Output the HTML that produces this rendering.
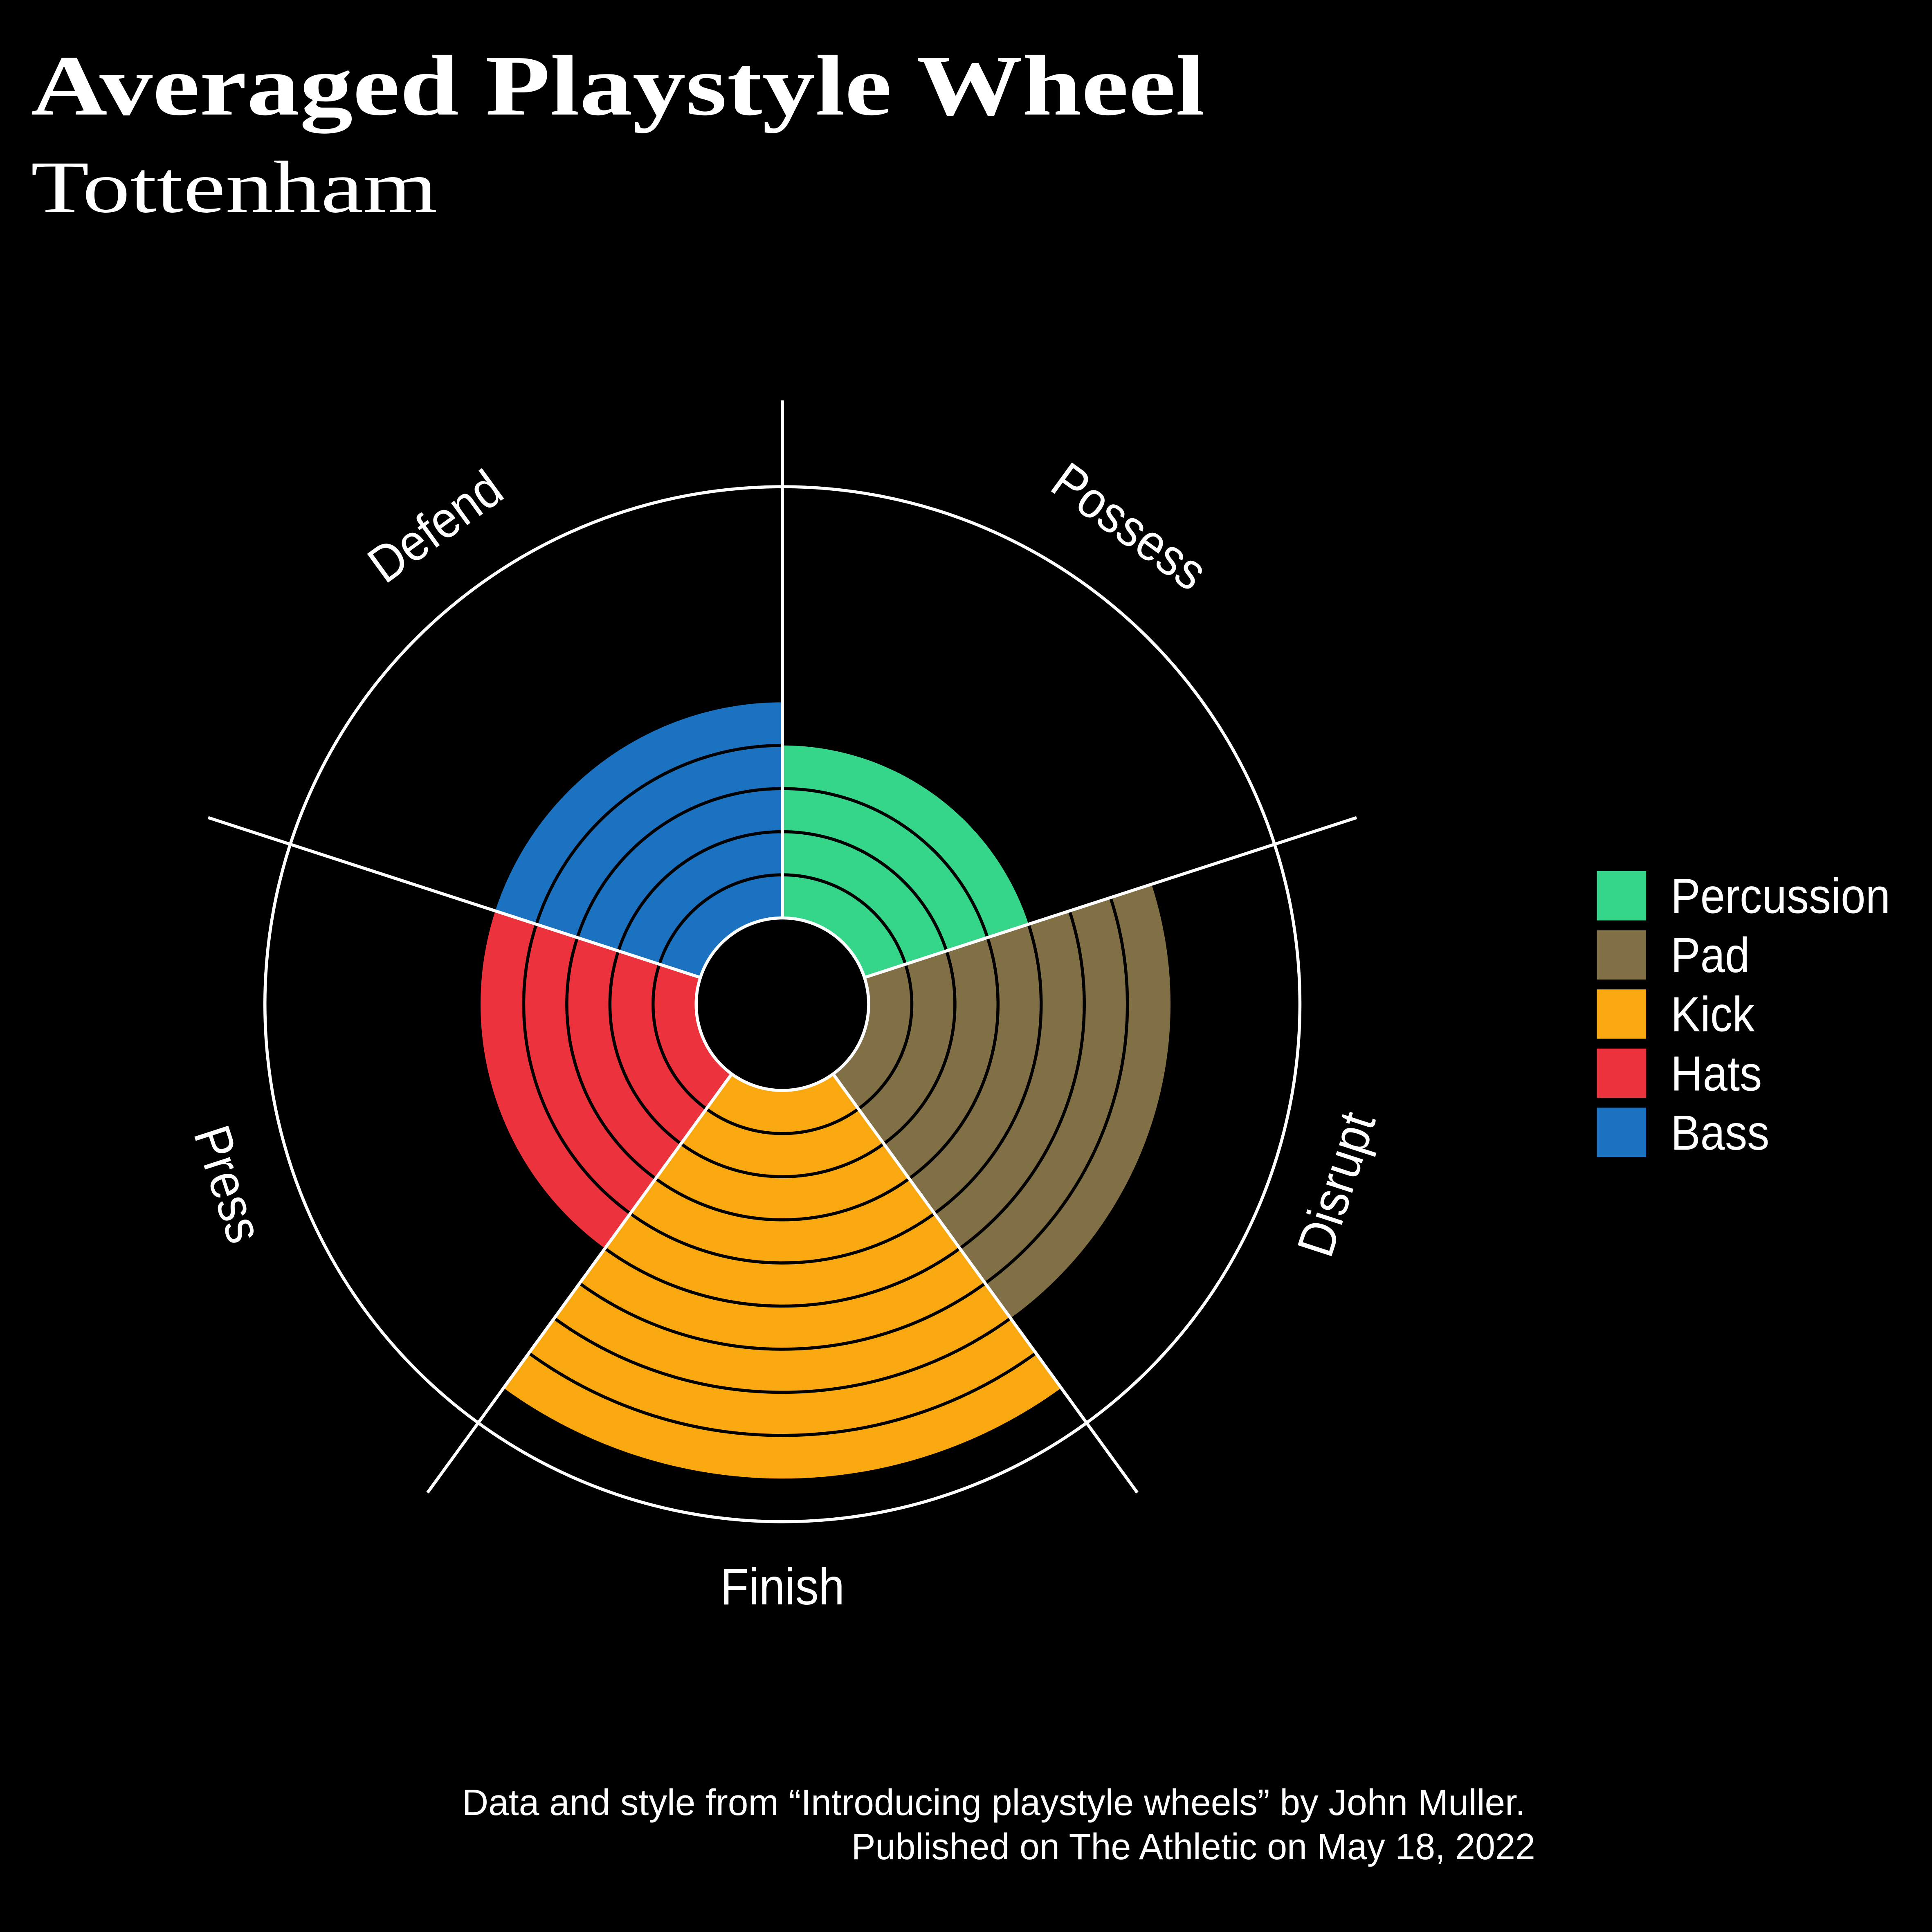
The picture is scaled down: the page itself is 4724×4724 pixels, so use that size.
<!DOCTYPE html>
<html><head><meta charset="utf-8">
<style>
html,body{margin:0;padding:0;background:#000;}
svg{display:block;}
.lab{font-family:"Liberation Sans Narrow","Liberation Sans",sans-serif;fill:#fff;}
</style></head>
<body>
<svg id="chart" width="4724" height="4724" viewBox="0 0 1568 1568" xmlns="http://www.w3.org/2000/svg">
<rect width="1568" height="1568" fill="#000"/>
<text x="25" y="93" font-family="Liberation Serif, serif" font-weight="bold" font-size="70" fill="#fff" textLength="953" lengthAdjust="spacingAndGlyphs">Averaged Playstyle Wheel</text>
<text x="25" y="172" font-family="Liberation Serif, serif" font-size="60" fill="#fff" textLength="330" lengthAdjust="spacingAndGlyphs">Tottenham</text>
<g id="wheel"></g>
<g id="legend"></g>
<text class="lab" x="1238" y="1473" font-size="30" text-anchor="end" textLength="863" lengthAdjust="spacingAndGlyphs">Data and style from “Introducing playstyle wheels” by John Muller.</text>
<text class="lab" x="1246" y="1509" font-size="30" text-anchor="end" textLength="555" lengthAdjust="spacingAndGlyphs">Published on The Athletic on May 18, 2022</text>
</svg>
<script>
const categories = ["Possess","Disrupt","Finish","Press","Defend"];
const series = ["Percussion","Pad","Kick","Hats","Bass"];
const values = [4,7,9,5,5];
const colors = ["#35D68A","#816F45","#F9A90F","#EC333D","#1B72C1"];
const maxValue = 10;

const NS="http://www.w3.org/2000/svg";
const cx=635, cy=815, r0=70, rOuter=420, unit=(rOuter-r0)/maxValue;
const g=document.getElementById('wheel');
function rScale(v){return r0+v*unit;}
function pt(r,a){const t=a*Math.PI/180;return [cx+r*Math.sin(t), cy-r*Math.cos(t)];}
function el(tag,attrs){const e=document.createElementNS(NS,tag);for(const k in attrs)e.setAttribute(k,attrs[k]);return e;}
function narrow(t){try{const w=t.getComputedTextLength();if(w>0){t.setAttribute('textLength',w*0.9);t.setAttribute('lengthAdjust','spacingAndGlyphs');}}catch(e){}}
const n=categories.length, step=360/n;

categories.forEach((c,i)=>{
  const a0=i*step,a1=(i+1)*step,r1=rScale(values[i]);
  const p0=pt(r0,a0),p1=pt(r1,a0),p2=pt(r1,a1),p3=pt(r0,a1);
  const p=el('path',{d:`M${p0} L${p1} A${r1} ${r1} 0 0 1 ${p2} L${p3} A${r0} ${r0} 0 0 0 ${p0} Z`,fill:colors[i]});
  
  
  g.appendChild(p);
  for(let k=1;k<values[i];k++){
    const rr=rScale(k),q0=pt(rr,a0),q1=pt(rr,a1);
    const arc=el('path',{d:`M${q0} A${rr} ${rr} 0 0 1 ${q1}`,fill:'none',stroke:'#000','stroke-width':2.5});
    
    
    g.appendChild(arc);
  }
});
const oc=el('circle',{cx:cx,cy:cy,r:rOuter,fill:'none',stroke:'#fff','stroke-width':2.5});


g.appendChild(oc);
for(let i=0;i<n;i++){
  const a=pt(r0,i*step),b=pt(490,i*step);
  const l=el('line',{x1:a[0],y1:a[1],x2:b[0],y2:b[1],stroke:'#fff','stroke-width':2.5});
  
  
  g.appendChild(l);
}
const hole=el('circle',{cx:cx,cy:cy,r:r0,fill:'#000',stroke:'#fff','stroke-width':2.5});


g.appendChild(hole);

categories.forEach((c,i)=>{
  const a=(i+0.5)*step, p=pt(476,a);
  let rot=a; if(a>90&&a<270) rot=a-180;
  const t=el('text',{x:p[0],y:p[1],'text-anchor':'middle','dominant-baseline':'middle','font-size':42,transform:`rotate(${rot} ${p[0]} ${p[1]})`,class:'lab'});
  t.textContent=c;
  
  
  g.appendChild(t);
  narrow(t);
});

const lg=document.getElementById('legend');
series.forEach((s,i)=>{
  const y=707+i*48;
  const r=el('rect',{x:1296,y:y,width:40,height:40,fill:colors[i]});
  
  
  lg.appendChild(r);
  const t=el('text',{x:1356,y:y+34,'font-size':40,class:'lab'});
  t.textContent=s;
  
  
  lg.appendChild(t);
  narrow(t);
});
</script>
</body></html>
